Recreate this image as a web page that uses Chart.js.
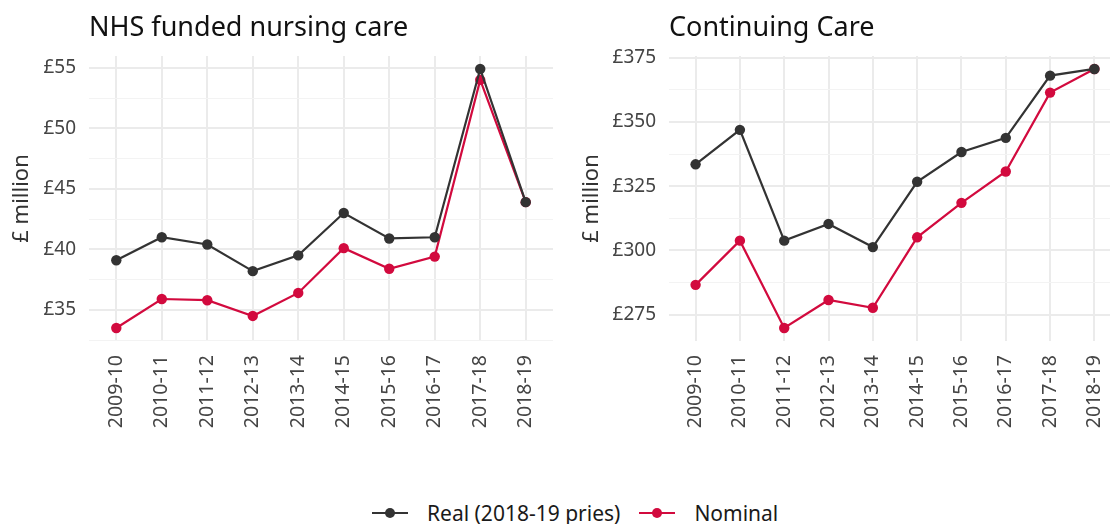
<!DOCTYPE html>
<html>
<head>
<meta charset="utf-8">
<script src="https://cdn.jsdelivr.net/npm/chart.js@4.4.0/dist/chart.umd.min.js"></script>
<style>
    body { margin: 0; background: #fff; width: 1110px; height: 524px; overflow: hidden; position: relative; font-family: "Noto Sans", sans-serif; }
    .panel { position: absolute; top: 0; height: 470px; }
    #leftPanel { left: 0; width: 560px; }
    #rightPanel { left: 560px; width: 580px; }
    #legend { position: absolute; top: 499px; left: 372px; display: flex; align-items: center; font-size: 21px; color: #1a1a1a; white-space: nowrap; }
    .item { display: flex; align-items: center; margin-right: 19px; }
    .key { position: relative; width: 36px; height: 2px; margin-right: 19px; }
    .key span { position: absolute; left: 13px; top: -4px; width: 10px; height: 10px; border-radius: 50%; }
</style>
</head>
<body>
<div class="panel" id="leftPanel"><canvas id="nursingChart"></canvas></div>
<div class="panel" id="rightPanel"><canvas id="careChart"></canvas></div>
<div id="legend"></div>

<script>
const years = ["2009-10", "2010-11", "2011-12", "2012-13", "2013-14", "2014-15", "2015-16", "2016-17", "2017-18", "2018-19"];
const seriesNames = ["Real (2018-19 pries)", "Nominal"];
const seriesColors = ["#333333", "#d20a3e"];

const nursingReal = [39.1, 41.0, 40.4, 38.2, 39.5, 43.0, 40.9, 41.0, 54.9, 43.9];
const nursingNominal = [33.5, 35.9, 35.8, 34.5, 36.4, 40.1, 38.4, 39.4, 54.0, 43.9];
const nursingTicks = [35, 40, 45, 50, 55];

const careReal = [333.5, 346.9, 303.8, 310.3, 301.3, 326.7, 338.3, 343.8, 368.0, 370.6];
const careNominal = [286.6, 303.8, 269.8, 280.7, 277.7, 305.1, 318.5, 330.7, 361.4, 370.6];
const careTicks = [275, 300, 325, 350, 375];

Chart.defaults.font.family = "'Noto Sans', sans-serif";
Chart.defaults.animation = false;

function makeChart(canvas, title, real, nominal, ticks, axisWidth, titlePad, rightPad) {
    const all = real.concat(nominal);
    const lo = Math.min(...all), hi = Math.max(...all);
    const pad = (hi - lo) * 0.05;
    const step = ticks[1] - ticks[0];

    return new Chart(canvas, {
        type: "line",
        data: {
            datasets: [real, nominal].map((vals, k) => ({
                label: seriesNames[k],
                data: vals.map((v, i) => ({ x: i, y: v })),
                borderColor: seriesColors[k],
                backgroundColor: seriesColors[k],
                borderWidth: 2.2,
                pointRadius: 5.2,
                pointBorderWidth: 0,
                tension: 0
            }))
        },
        options: {
            responsive: true,
            maintainAspectRatio: false,
            layout: { padding: { left: 0, right: rightPad, top: 0, bottom: 0 } },
            plugins: {
                legend: { display: false },
                tooltip: { enabled: false },
                title: {
                    display: true,
                    text: title,
                    align: "start",
                    fullSize: false,
                    color: "#111",
                    font: { size: 27, weight: "normal" },
                    padding: { top: 12, bottom: 11.6 }
                }
            },
            scales: {
                x: {
                    type: "linear",
                    min: -0.6,
                    max: years.length - 0.4,
                    afterBuildTicks: s => { s.ticks = years.map((y, i) => ({ value: i })); },
                    afterFit: s => {
                        s.height = 129;
                        // rotated labels sit well inside the panel, no overhang needed
                        s.paddingLeft = 0;
                        s.paddingRight = 0;
                    },
                    border: { display: false },
                    grid: { color: "#ebebeb", lineWidth: 2, drawTicks: false },
                    ticks: {
                        autoSkip: false,
                        minRotation: 90,
                        maxRotation: 90,
                        padding: 14,
                        color: "#444",
                        font: { size: 19.5 },
                        callback: v => years[v]
                    }
                },
                y: {
                    min: lo - pad,
                    max: hi + pad,
                    afterBuildTicks: s => {
                        const t = [];
                        ticks.forEach(v => {
                            t.push({ value: v });
                            if (v + step / 2 <= s.max) t.push({ value: v + step / 2 });
                        });
                        if (ticks[0] - step / 2 >= s.min) t.push({ value: ticks[0] - step / 2 });
                        s.ticks = t;
                    },
                    afterFit: s => { s.width = axisWidth; },
                    border: { display: false },
                    grid: {
                        drawTicks: false,
                        color: c => ticks.includes(c.tick.value) ? "#ebebeb" : "#f3f3f3",
                        lineWidth: c => ticks.includes(c.tick.value) ? 2 : 1
                    },
                    ticks: {
                        padding: 13,
                        color: "#444",
                        font: { size: 19 },
                        callback: v => ticks.includes(v) ? "£" + v : ""
                    },
                    title: {
                        display: true,
                        text: "£ million",
                        color: "#333",
                        font: { size: 22 },
                        padding: { top: titlePad, bottom: 0 }
                    }
                }
            }
        }
    });
}

makeChart(document.getElementById("nursingChart"), "NHS funded nursing care",
    nursingReal, nursingNominal, nursingTicks, 89, 9, 7);
makeChart(document.getElementById("careChart"), "Continuing Care",
    careReal, careNominal, careTicks, 109, 19, 19);

// legend drawn as plain html below the two panels
const legend = document.getElementById("legend");
seriesNames.forEach((name, k) => {
    const item = document.createElement("div");
    item.className = "item";
    item.innerHTML = '<div class="key" style="background:' + seriesColors[k] + '"><span style="background:' +
        seriesColors[k] + '"></span></div><div>' + name + '</div>';
    legend.appendChild(item);
});
</script>
</body>
</html>
